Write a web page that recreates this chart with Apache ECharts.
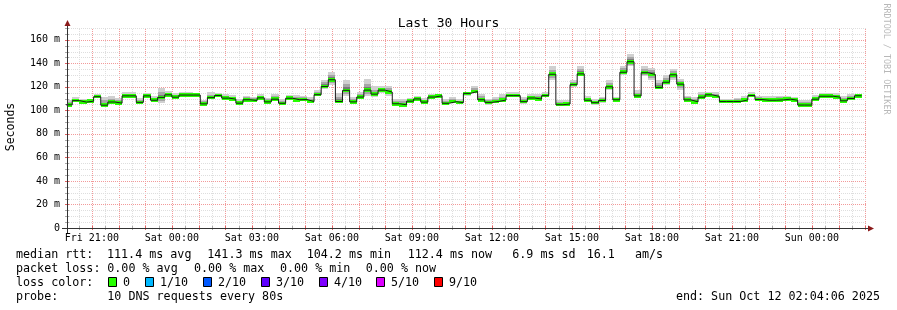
<!DOCTYPE html>
<html><head><meta charset="utf-8">
<script src="https://cdn.jsdelivr.net/npm/echarts@6/dist/echarts.min.js"></script>
<style>html,body{margin:0;padding:0;background:#fff}#c{width:897px;height:310px}</style>
</head><body><div id="c"></div>
<script>
// x values are minutes after Fri 20:00
const START_MIN = 4.1;      // Fri 20:04:06
const END_MIN = 1804.1;     // Sun 02:04:06
const STEP_MIN = 16;        // consolidation step
const median = [104.7,108.3,107,107.8,111.6,104.4,107.1,106.1,112.3,112.3,
106.8,112.3,108.6,111,113.2,111.2,113,113,113,105.5,
110.8,112.6,110.4,109.5,106.1,109,108.4,110.6,107.2,109.5,
106,110.3,109,109.2,107.5,113.3,120.3,126,107.5,117,
107.2,111.3,117.2,113.8,117.2,115.5,105.6,104.7,107.8,109.7,
107,111.3,112.4,106,107.4,106.5,114.4,116.1,109,106.8,
107.6,108.8,112.5,112.5,107.4,110.5,109.6,112.5,130.7,104.8,
105.4,121.8,131,108.6,106.5,108.4,120,109,132.4,141.3,
112.3,132,130.5,119.5,123.9,130.2,122.3,108.9,107.2,111.2,
113.2,111.8,107.5,107.5,107.5,108.9,112.6,109.2,108.6,108.6,
108.9,109.5,108.6,104.5,104.5,109.5,112,112,111.2,108.1,
110.1,112.4];
const smokeHi = [108.4,111.2,109.5,109.5,114,111.2,111.8,110.1,115.2,115.2,
110.6,114.6,111.8,118.6,116.3,114.6,115.7,115.7,114.6,108.9,
115.2,114.6,113.5,112.9,109.5,112.3,111.2,113.5,110.6,113.5,
109.5,112.9,112.9,112.3,111.2,116.9,126,132.8,114.6,125.4,
111.2,115.2,126.5,120.3,120.8,120.8,109.5,109.5,110.1,112.3,
110.6,113.5,114,109.5,111.2,109.5,116,120.8,114,109.5,
111.2,113.5,115.2,115.2,111.2,113.5,113.5,115.2,137.3,108.4,
108.9,125.4,137.9,112.3,109.5,111.2,125.4,111.2,137.9,148.1,
116.9,137.9,136.2,125.4,130.2,135,126.5,112.3,111.2,116,
116,115.2,109.5,109.5,110.4,111.8,115.2,112.3,112.3,111.8,
112.3,112.3,111.2,108.4,108.4,113.2,114.6,114.6,114.6,111.8,
114,114];
const smokeLo = [103.8,106.7,106.1,106.7,110.8,103.6,106.2,105.2,111.2,111.2,
106.1,111.2,107.8,106.1,111.2,110.4,111.2,111.2,111.2,104.8,
109.5,111.2,109,108.4,105,107.8,107.2,109.5,106.1,108.4,
104.4,109,108.4,107.8,106.1,112.3,118,121.4,106.1,111.8,
106.1,109.5,111.8,111.2,114.6,112.3,104.4,103.3,106.1,107.8,
105.5,109.5,111.2,104.7,106.1,105,112.3,114.6,107.5,104.7,
106.1,107.2,111.2,111.2,105.5,108.4,108.4,111.2,126,103.3,
103.8,119.7,128.8,107.2,104.4,106.1,117.4,107.5,130.2,137.3,
110.4,128.8,126,118,121.7,125.4,117.4,107.5,106.1,109.5,
111.2,110.1,106.1,106.1,106.1,107.5,111.2,108.4,107.8,107.8,
107.8,108.4,107.8,103.3,103.3,108.9,111.2,111.2,110.1,106.7,
108.9,111.8];
const xTickValues = [60,240,420,600,780,960,1140,1320,1500,1680];
const xTickLabels = ['Fri 21:00','Sat 00:00','Sat 03:00','Sat 06:00','Sat 09:00','Sat 12:00','Sat 15:00','Sat 18:00','Sat 21:00','Sun 00:00'];
const yTickValues = [0,20,40,60,80,100,120,140,160];
const yTickLabels = ['0','20 m','40 m','60 m','80 m','100 m','120 m','140 m','160 m'];
const Y_MAX = 170;
const lossLabels = ['0','1/10','2/10','3/10','4/10','5/10','9/10'];
const lossColors = ['#26ff00','#00b8ff','#0059ff','#5e00ff','#7e00ff','#dd00ff','#ff0000'];
const legendLines = [
  ['median rtt:','111.4 ms avg','141.3 ms max','104.2 ms min','112.4 ms now','6.9 ms sd','16.1','am/s'],
  ['packet loss:','0.00 % avg','0.00 % max','0.00 % min','0.00 % now'],
  ['probe:','10 DNS requests every 80s']
];
const endText = 'end: Sun Oct 12 02:04:06 2025';

const MONO = '"DejaVu Sans Mono", monospace';
const chart = echarts.init(document.getElementById('c'), null, {renderer:'canvas'});

const steps = median.map((m, i) => [i*STEP_MIN, (i+1)*STEP_MIN, smokeLo[i], smokeHi[i], m]);
const lineData = median.map((m, i) => [i*STEP_MIN, m]);
lineData.push([median.length*STEP_MIN, median[median.length-1]]);

const vGrid = [];
for (let t = 30; t <= 1800; t += 30) vGrid.push([t, t % 60 === 0 ? 1 : 0]);
const hGrid = [];
for (let v = 5; v <= Y_MAX; v += 5) hGrid.push([START_MIN, v, v % 20 === 0 ? 1 : 0]);

const MAJ = '#f29a9a', MIN = '#dedede';

const option = {
  animation: false,
  backgroundColor: '#fff',
  title: {text: 'Last 30 Hours', left: 'center', top: 12,
    textStyle: {fontFamily: MONO, fontSize: 13, fontWeight: 'normal', color: '#000'}},
  grid: {left: 67, right: 30, top: 28, bottom: 82, containLabel: false},
  xAxis: {type: 'value', min: START_MIN, max: END_MIN,
    axisLine: {show: false}, axisTick: {show: false}, splitLine: {show: false},
    axisLabel: {customValues: xTickValues, margin: 5, fontFamily: MONO, fontSize: 10, color: '#000',
      formatter: v => { const k = xTickValues.indexOf(v); return k >= 0 ? xTickLabels[k] : ''; }}},
  yAxis: {type: 'value', min: 0, max: Y_MAX,
    axisLine: {show: false}, axisTick: {show: false}, splitLine: {show: false},
    axisLabel: {customValues: yTickValues, margin: 7, fontFamily: MONO, fontSize: 10, color: '#000',
      formatter: v => { const k = yTickValues.indexOf(v); return k >= 0 ? yTickLabels[k] : ''; }}},
  series: [
    {type: 'custom', name: 'vgrid', silent: true, z: 1, data: vGrid, encode: {x: 0},
      renderItem: (p, api) => {
        const t = api.value(0), major = api.value(1);
        const b = api.coord([t, 0]), tp = api.coord([t, Y_MAX]);
        const x = Math.round(b[0]) + 0.5;
        return {type: 'group', children: [
          {type: 'line', shape: {x1: x, y1: Math.round(b[1]), x2: x, y2: Math.round(tp[1])},
            style: {stroke: major ? MAJ : MIN, lineWidth: 1, lineDash: [1, 1]}},
          {type: 'line', shape: {x1: x, y1: b[1] - 2, x2: x, y2: b[1] + 2},
            style: {stroke: major ? '#e06060' : '#aaa', lineWidth: 1}}
        ]};
      }},
    {type: 'custom', name: 'hgrid', silent: true, z: 1, data: hGrid, encode: {x: 0, y: 1},
      renderItem: (p, api) => {
        const v = api.value(1), major = api.value(2);
        const a = api.coord([START_MIN, v]), b = api.coord([END_MIN, v]);
        const y = Math.round(a[1]) + 0.5;
        return {type: 'group', children: [
          {type: 'line', shape: {x1: Math.round(a[0]), y1: y, x2: Math.round(b[0]), y2: y},
            style: {stroke: major ? MAJ : MIN, lineWidth: 1, lineDash: [1, 1]}},
          {type: 'line', shape: {x1: a[0] - 2, y1: y, x2: a[0] + 2, y2: y},
            style: {stroke: major ? '#e06060' : '#aaa', lineWidth: 1}}
        ]};
      }},
    {type: 'custom', name: 'smoke', silent: true, z: 2, clip: true, data: steps,
      encode: {x: [0, 1], y: [2, 3, 4]},
      renderItem: (p, api) => {
        const s = api.value(0), e = api.value(1), lo = api.value(2), hi = api.value(3), md = api.value(4);
        const x0 = Math.round(api.coord([s, md])[0]), x1 = Math.round(api.coord([e, md])[0]);
        const yv = v => api.coord([s, v])[1];
        const band = (a, b, fill) => {
          const ya = Math.round(yv(b)), yb = Math.round(yv(a));
          return {type: 'rect', shape: {x: x0, y: ya, width: x1 - x0, height: Math.max(1, yb - ya)}, style: {fill}};
        };
        return {type: 'group', children: [
          band(lo, hi, '#d0d0d0'),
          band(md - (md - lo) * 0.6, md + (hi - md) * 0.6, '#a6a6a6'),
          band(md - (md - lo) * 0.3, md + (hi - md) * 0.3, '#7a7a7a'),
          band(md - 1.5, md + 1.5, '#26ff00')
        ]};
      }},
    {type: 'line', name: 'median', z: 3, data: lineData, step: 'end', symbol: 'none', silent: true,
      lineStyle: {color: '#1a1a1a', width: 1}, clip: true}
  ],
  graphic: []
};

const G = option.graphic;
G.push({type: 'line', shape: {x1: 67.5, y1: 21, x2: 67.5, y2: 233}, style: {stroke: '#333', lineWidth: 1}, z: 10});
G.push({type: 'line', shape: {x1: 62, y1: 228.5, x2: 870, y2: 228.5}, style: {stroke: '#333', lineWidth: 1}, z: 10});
G.push({type: 'polygon', shape: {points: [[64.5, 26], [70.5, 26], [67.5, 20]]}, style: {fill: '#8b1a1a'}, z: 11});
G.push({type: 'polygon', shape: {points: [[868, 225.5], [868, 231.5], [874, 228.5]]}, style: {fill: '#8b1a1a'}, z: 11});
G.push({type: 'text', x: 11, y: 127, rotation: Math.PI / 2,
  style: {text: 'Seconds', font: '11.5px ' + MONO, fill: '#000', align: 'center', verticalAlign: 'middle'}});
G.push({type: 'text', x: 886, y: 59, rotation: -Math.PI / 2,
  style: {text: 'RRDTOOL / TOBI OETIKER', font: '8.4px ' + MONO, fill: '#b8b8b8', align: 'center', verticalAlign: 'middle'}});
const LFONT = '11.7px ' + MONO;
const lineX = [
  [16, 107, 207.3, 306.7, 407.7, 512.3, 586.7, 635],
  [16, 107.3, 194, 280, 365.7],
  [16, 107.3]
];
const lineY = [254.5, 268.5, 296.5];
legendLines.forEach((parts, li) => parts.forEach((txt, k) => {
  G.push({type: 'text', x: lineX[li][k], y: lineY[li],
    style: {text: txt, font: LFONT, fill: '#000', align: 'left', verticalAlign: 'middle'}});
}));
G.push({type: 'text', x: 16, y: 282.5, style: {text: 'loss color:', font: LFONT, fill: '#000', align: 'left', verticalAlign: 'middle'}});
const boxX = [108.5, 145.5, 203.5, 261.5, 319.5, 376.5, 434.5];
lossLabels.forEach((lab, k) => {
  G.push({type: 'rect', shape: {x: boxX[k], y: 277.5, width: 8, height: 9},
    style: {fill: lossColors[k], stroke: '#000', lineWidth: 1}});
  G.push({type: 'text', x: boxX[k] + 14.5, y: 282.5,
    style: {text: lab, font: LFONT, fill: '#000', align: 'left', verticalAlign: 'middle'}});
});
G.push({type: 'text', x: 880, y: 296.5, style: {text: endText, font: LFONT, fill: '#000', align: 'right', verticalAlign: 'middle'}});

chart.setOption(option);
</script></body></html>
